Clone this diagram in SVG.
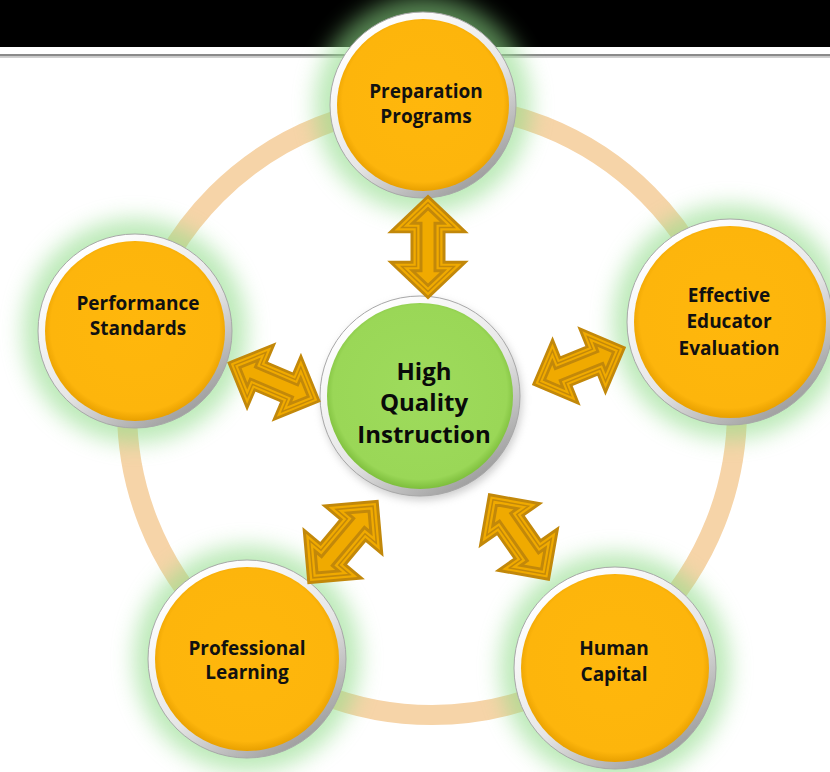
<svg xmlns="http://www.w3.org/2000/svg" width="830" height="772" viewBox="0 0 830 772">
<style>
.lbl{font-family:"Open Sans","Noto Sans","Liberation Sans",sans-serif;font-weight:700;font-size:19px;fill:#111;text-anchor:middle}
.big{font-family:"Open Sans","Noto Sans","Liberation Sans",sans-serif;font-weight:700;font-size:24px;fill:#0a0a0a;text-anchor:middle}
.glow{fill:#8fdc88;opacity:0.6;filter:url(#blur)}
.rim{fill:url(#rimG);stroke:#a8a8a8;stroke-width:1}
.orange{fill:url(#orG)}
.green{fill:url(#grG)}
.arO{fill:#F0AA00;stroke:#C2880A;stroke-width:12;stroke-linejoin:miter;stroke-miterlimit:6}
.arM{fill:none;stroke:#F0AA00;stroke-width:6;stroke-linejoin:miter;stroke-miterlimit:6}
.arI{fill:none;stroke:#C2880A;stroke-width:1.5;stroke-linejoin:miter;stroke-miterlimit:6}
</style>
<defs>
<filter id="blur" x="-40%" y="-40%" width="180%" height="180%"><feGaussianBlur stdDeviation="11"/></filter>
<filter id="shd" x="-30%" y="-30%" width="160%" height="160%"><feGaussianBlur stdDeviation="4"/></filter>
<linearGradient id="rimG" x1="0.2" y1="0.1" x2="0.8" y2="0.95">
<stop offset="0" stop-color="#ffffff"/><stop offset="0.55" stop-color="#e6e6e6"/><stop offset="1" stop-color="#9a9a9a"/>
</linearGradient>
<radialGradient id="orG" cx="0.5" cy="0.48" r="0.52">
<stop offset="0" stop-color="#FFB70C"/><stop offset="0.9" stop-color="#FDB50C"/><stop offset="1" stop-color="#E8A000"/>
</radialGradient>
<radialGradient id="grG" cx="0.5" cy="0.48" r="0.52">
<stop offset="0" stop-color="#9EDB5C"/><stop offset="0.9" stop-color="#9AD757"/><stop offset="1" stop-color="#7DBE3C"/>
</radialGradient>
<path id="arr" d="M -46.8,0 L -20.5,-26.3 L -20.5,-11.5 L 20.5,-11.5 L 20.5,-26.3 L 46.8,0 L 20.5,26.3 L 20.5,11.5 L -20.5,11.5 L -20.5,26.3 Z"/>
</defs>
<rect x="0" y="0" width="830" height="772" fill="#ffffff"/>
<rect x="0" y="0" width="830" height="47" fill="#000000"/>
<rect x="0" y="54" width="830" height="2.5" fill="#8a8a8a"/>
<rect x="0" y="56.5" width="830" height="1.5" fill="#d0d0d0"/>

<g id="ring">
<circle cx="432" cy="410" r="305" fill="none" stroke="#F6D4A8" stroke-width="20"/>
</g>

<g id="glows">
<circle class="glow" cx="423" cy="105" r="108"/>
<circle class="glow" cx="135" cy="331" r="112"/>
<circle class="glow" cx="730" cy="322" r="117"/>
<circle class="glow" cx="247" cy="659" r="113"/>
<circle class="glow" cx="615" cy="668" r="115"/>
<circle cx="422" cy="400" r="100" fill="#9a9a9a" opacity="0.5" filter="url(#shd)"/>
</g>

<g id="node-preparation">
<circle class="rim" cx="423" cy="105" r="93"/>
<circle class="orange" cx="423" cy="105" r="86"/>
<text class="lbl" x="426" y="98">Preparation</text>
<text class="lbl" x="426" y="123">Programs</text>
</g>

<g id="node-performance">
<circle class="rim" cx="135" cy="331" r="97"/>
<circle class="orange" cx="135" cy="331" r="90"/>
<text class="lbl" x="138" y="310">Performance</text>
<text class="lbl" x="138" y="335">Standards</text>
</g>

<g id="node-effective">
<circle class="rim" cx="730" cy="322" r="103"/>
<circle class="orange" cx="730" cy="322" r="96"/>
<text class="lbl" x="729" y="302">Effective</text>
<text class="lbl" x="729" y="328">Educator</text>
<text class="lbl" x="729" y="355">Evaluation</text>
</g>

<g id="node-professional">
<circle class="rim" cx="247" cy="659" r="99"/>
<circle class="orange" cx="247" cy="659" r="92"/>
<text class="lbl" x="247" y="655">Professional</text>
<text class="lbl" x="247" y="679">Learning</text>
</g>

<g id="node-human">
<circle class="rim" cx="615" cy="668" r="101"/>
<circle class="orange" cx="615" cy="668" r="94"/>
<text class="lbl" x="614" y="655">Human</text>
<text class="lbl" x="614" y="681">Capital</text>
</g>

<g id="node-center">
<circle class="rim" cx="420" cy="396" r="100"/>
<circle class="green" cx="420" cy="396" r="93"/>
<text class="big" x="424" y="380">High</text>
<text class="big" x="424" y="411">Quality</text>
<text class="big" x="424" y="443">Instruction</text>
</g>

<g id="connectors">
<g transform="translate(428,247) rotate(90) scale(0.95,1)"><use href="#arr" class="arO"/><use href="#arr" class="arM"/><use href="#arr" class="arI"/></g>
<g transform="translate(274,382) rotate(23) scale(0.92)"><use href="#arr" class="arO"/><use href="#arr" class="arM"/><use href="#arr" class="arI"/></g>
<g transform="translate(579,366) rotate(-22) scale(0.92)"><use href="#arr" class="arO"/><use href="#arr" class="arM"/><use href="#arr" class="arI"/></g>
<g transform="translate(343,542) rotate(-50) scale(1.0)"><use href="#arr" class="arO"/><use href="#arr" class="arM"/><use href="#arr" class="arI"/></g>
<g transform="translate(519,537) rotate(55) scale(0.97)"><use href="#arr" class="arO"/><use href="#arr" class="arM"/><use href="#arr" class="arI"/></g>
</g>
</svg>
